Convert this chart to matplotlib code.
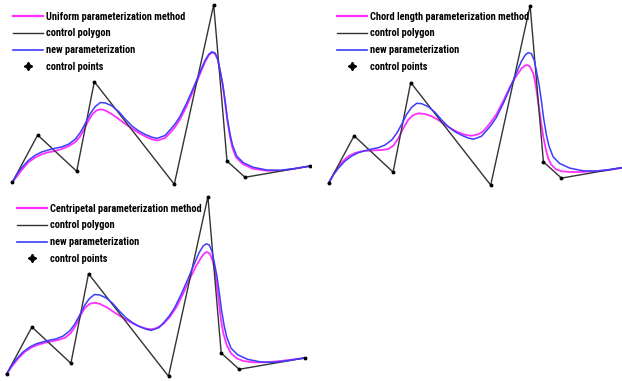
# three panels: uniform / chord length / centripetal vs new parameterization
import matplotlib
matplotlib.use('Agg')
import matplotlib.pyplot as plt
from matplotlib.lines import Line2D

# control polygon (pixel-like units, y downward)
ctrl_x = [12.3, 37.7, 76.7, 94.3, 174.3, 213.7, 227.0, 245.0, 310.3]
ctrl_y = [182.3, 135.0, 171.3, 81.7, 184.3, 4.7, 161.0, 177.3, 166.0]

# new parameterization curve (same in every panel)
new_x = [12.3, 16.9, 21.9, 28.6, 35.3, 41.9, 48.6, 55.3, 61.9, 68.6, 75.3, 80.3, 85.3,
         90.3, 95.3, 100.3, 105.3, 111.9, 118.6, 125.3, 131.9, 138.6, 145.3, 151.9,
         157.0, 165.0, 170.0, 175.0, 180.0, 186.7, 193.3, 200.0, 205.0, 209.0, 212.0,
         215.0, 217.7, 220.0, 222.7, 225.0, 227.3, 230.0, 232.5, 236.7, 243.3, 253.3,
         266.7, 280.0, 293.3, 310.3]
new_y = [182.3, 174.2, 167.5, 160.2, 155.2, 151.9, 149.9, 148.2, 146.9, 144.2, 139.2, 132.5, 123.5,
         113.5, 106.5, 102.5, 102.9, 105.9, 111.5, 119.2, 125.9, 130.9, 134.5, 137.2,
         138.4, 135.5, 130.0, 124.0, 116.5, 103.0, 88.0, 72.0, 60.5, 54.0, 51.8,
         53.0, 59.0, 70.0, 84.0, 100.0, 118.0, 134.0, 145.0, 156.0, 162.7, 167.3,
         170.0, 170.3, 168.7, 166.0]

# uniform parameterization
uni_x = [12.3, 16.7, 21.7, 28.3, 35.0, 41.7, 48.3, 55.0, 61.7, 68.3, 75.0, 80.0, 84.3,
         88.3, 92.3, 96.7, 101.0, 105.0, 111.7, 118.3, 125.0, 131.7, 138.3, 145.0,
         151.7, 157.5, 165.0, 170.0, 175.0, 180.0, 186.7, 193.3, 200.0, 205.0, 209.0,
         212.0, 215.0, 217.7, 220.0, 222.7, 225.0, 227.3, 230.0, 232.5, 236.0, 242.7,
         252.7, 266.7, 280.0, 293.3, 310.3]
uni_y = [182.3, 176.7, 170.0, 162.3, 157.7, 154.3, 152.3, 151.0, 149.0, 146.3, 142.3, 136.7, 129.0,
         121.0, 114.3, 110.3, 109.3, 110.3, 114.0, 118.7, 123.7, 128.3, 132.7, 136.3,
         139.3, 140.5, 138.0, 133.0, 127.0, 119.5, 106.0, 90.5, 74.0, 62.0, 55.0,
         52.5, 53.5, 59.5, 70.5, 85.0, 102.0, 120.0, 137.0, 148.0, 157.3, 164.0,
         168.7, 170.7, 170.7, 169.0, 166.0]

# chord length parameterization
chord_x = [12.3, 18.6, 25.3, 31.9, 38.6, 45.3, 51.9, 58.6, 65.3, 71.9, 76.9, 81.9, 86.9,
           91.9, 96.9, 101.9, 108.6, 115.3, 121.9, 128.6, 135.3, 141.9, 148.6, 155.3,
           161.9, 166.9, 173.6, 180.3, 186.9, 193.6, 200.3, 205.3, 208.6, 211.0, 213.6,
           216.9, 219.6, 221.9, 224.3, 226.9, 229.6, 232.0, 234.6, 239.6, 245.3, 253.6,
           263.6, 276.9, 290.3, 305.6, 310.3]
chord_y = [182.3, 170.9, 161.5, 155.5, 152.2, 150.5, 149.9, 149.5, 149.2, 148.2, 144.9, 137.5, 127.5,
           118.9, 114.2, 112.5, 113.2, 115.5, 119.2, 123.9, 128.2, 131.5, 134.0, 135.0,
           133.5, 130.5, 122.5, 113.0, 100.0, 86.0, 74.5, 67.5, 64.9, 64.2, 65.9,
           72.5, 85.9, 102.5, 119.2, 135.9, 149.2, 158.0, 163.5, 168.5, 170.5, 171.2,
           171.2, 170.5, 169.5, 167.2, 166.0]

# centripetal parameterization
cent_x = [12.3, 17.5, 24.1, 30.8, 37.5, 44.1, 50.8, 57.5, 64.1, 70.8, 76.5, 81.8, 86.5,
          90.8, 95.8, 100.8, 105.8, 112.5, 119.1, 125.8, 132.5, 139.1, 145.8, 152.5,
          157.5, 162.5, 169.1, 175.8, 182.5, 189.1, 195.8, 202.5, 207.5, 210.8, 213.1,
          215.8, 218.5, 220.8, 222.8, 224.8, 226.8, 229.1, 232.5, 236.8, 242.5, 249.1,
          259.1, 272.5, 289.1, 310.3]
cent_y = [182.3, 174.7, 166.3, 159.7, 155.3, 152.7, 150.7, 149.3, 148.0, 145.7, 141.3, 133.0, 123.0,
          115.7, 111.7, 110.7, 112.0, 115.3, 119.7, 124.0, 128.0, 131.7, 134.7, 136.7,
          137.3, 136.0, 132.0, 124.7, 114.7, 101.3, 86.3, 73.0, 64.7, 60.7, 60.0,
          62.0, 68.7, 79.7, 94.7, 111.3, 128.0, 141.3, 153.0, 161.3, 166.3, 169.0,
          170.3, 170.3, 168.7, 166.0]

methods = ['Uniform parameterization method',
           'Chord length parameterization method',
           'Centripetal parameterization method']

MAG = '#ff30ff'
BLU = '#3c3cff'
POLY = '#333333'

fig = plt.figure(figsize=(6.22, 3.81), dpi=100)
fig.patch.set_facecolor('white')

# axes rect, xlim, ylim, legend anchor
panels = [
    ([0, 191/381, 311/622, 190/381], (0, 311), (190, 0), (12.5/311, 1 - 11.5/190)),
    ([311/622, 191/381, 311/622, 190/381], (-5.4, 305.6), (189.2, -0.8), (25.7/311, 1 - 11.5/190)),
    ([0, 0, 311/622, 191/381], (5.8, 316.8), (189, -2), (16.5/311, 1 - 13.5/191)),
]
mag_curves = [(uni_x, uni_y), (chord_x, chord_y), (cent_x, cent_y)]

for (rect, xl, yl, anchor), (mx, my), label in zip(panels, mag_curves, methods):
    ax = fig.add_axes(rect)
    ax.plot(mx, my, color=MAG, lw=1.3)
    ax.plot(ctrl_x, ctrl_y, color=POLY, lw=1.0)
    ax.plot(new_x, new_y, color=BLU, lw=1.1)
    ax.plot(ctrl_x, ctrl_y, 'o', color='black', ms=1.8, ls='none')
    ax.set_xlim(*xl)
    ax.set_ylim(*yl)
    ax.axis('off')

    handles = [Line2D([], [], color=MAG, lw=1.6),
               Line2D([], [], color=POLY, lw=1.0),
               Line2D([], [], color=BLU, lw=1.2),
               Line2D([], [], color='black', marker=(4, 1, 0), ms=6, ls='none')]
    labels = [label, 'control polygon', 'new parameterization', 'control points']
    ax.legend(handles, labels, loc='upper left', bbox_to_anchor=anchor,
              frameon=False, borderpad=0, borderaxespad=0, handlelength=2.9,
              handletextpad=0.3, labelspacing=0.66,
              prop={'family': ['Roboto Condensed', 'Liberation Sans Narrow', 'Roboto'],
                    'weight': 'bold', 'size': 7.5, 'stretch': 'condensed'})

fig.savefig('out.png', dpi=100, facecolor='white')
